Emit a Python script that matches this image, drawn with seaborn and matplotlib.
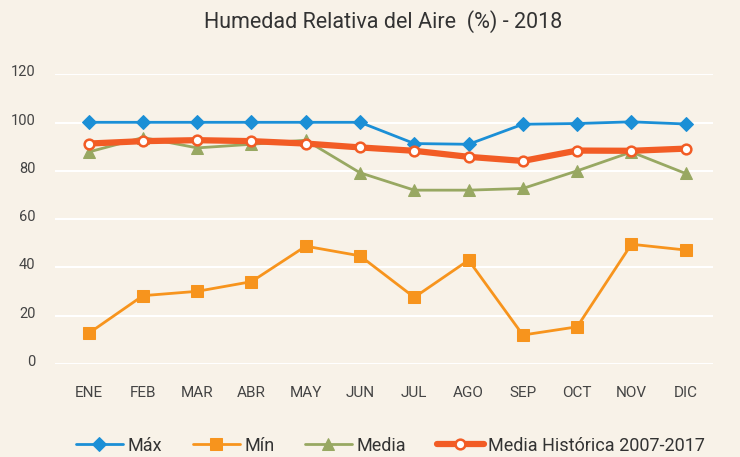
import numpy as np
import pandas as pd
import matplotlib
matplotlib.use("Agg")
import matplotlib.pyplot as plt
import matplotlib.transforms as mtransforms
import seaborn as sns
from matplotlib.ticker import FixedLocator

# %% data
months = ["ENE", "FEB", "MAR", "ABR", "MAY", "JUN", "JUL", "AGO", "SEP", "OCT", "NOV", "DIC"]
maxima = [100.1, 100.1, 100.1, 100.1, 100.1, 100.1, 91.3, 91.0, 99.3, 99.6, 100.3, 99.4]
minima = [12.7, 28.3, 30.1, 34.1, 48.8, 44.8, 27.6, 43.0, 12.0, 15.4, 49.6, 47.2]
media = [87.8, 93.8, 89.5, 91.0, 92.7, 79.2, 72.0, 72.0, 72.7, 80.0, 87.8, 78.9]
historica = [91.3, 92.3, 92.7, 92.3, 91.3, 89.7, 88.3, 85.8, 84.1, 88.4, 88.3, 89.2]
yticks = [0, 20, 40, 60, 80, 100, 120]

bg = "#F8F2E8"
sns.set_style("white", {"axes.facecolor": bg, "figure.facecolor": bg})
plt.rcParams["font.family"] = ["Roboto", "DejaVu Sans"]

fig = plt.figure(figsize=(7.4, 4.57), dpi=100)
ax = fig.add_axes([0.0743, 0.2035, 0.889, 0.634])

x = np.arange(len(months))
sns.lineplot(x=x, y=maxima, ax=ax, color="#1B8FD6", lw=2, marker="D", ms=7,
             mec="#1B8FD6", label="Máx", zorder=4)
sns.lineplot(x=x, y=minima, ax=ax, color="#F7941D", lw=2, marker="s", ms=9,
             mec="#F7941D", label="Mín", zorder=4)
sns.lineplot(x=x, y=media, ax=ax, color="#98A862", lw=2, marker="^", ms=9,
             mec="#98A862", label="Media", zorder=3)
sns.lineplot(x=x, y=historica, ax=ax, color="#F25C25", lw=4.5, marker="o", ms=7,
             mfc="white", mec="#F25C25", mew=1.8, label="Media Histórica 2007-2017", zorder=5)

ax.set_ylim(0, 120)
ax.set_xlim(-0.62, 11.5)
ax.set_yticks(yticks)
ax.set_xticks(x)
ax.set_xticklabels(months)
ax.xaxis.set_minor_locator(FixedLocator(np.arange(-0.5, 12, 1)))
ax.grid(axis="y", color="white", lw=1.5)
ax.set_axisbelow(True)
for s in ax.spines.values():
    s.set_visible(False)
ax.tick_params(axis="x", which="major", length=0, pad=16, labelsize=11, labelcolor="#444444")
ax.tick_params(axis="x", which="minor", length=5, width=1.2, color="white")
ax.tick_params(axis="y", length=0, pad=14, labelsize=10.5, labelcolor="#444444")
shift = mtransforms.ScaledTranslation(0, 2 / 100, fig.dpi_scale_trans)
for lab in ax.get_yticklabels():
    lab.set_verticalalignment("center")
    lab.set_transform(lab.get_transform() + shift)

fig.suptitle("Humedad Relativa del Aire  (%) - 2018", x=0.518, y=0.977, fontsize=15.5,
             color="#333333")

ax.legend(loc="upper center", bbox_to_anchor=(0.51, -0.195), ncol=4, frameon=False,
          fontsize=13, handlelength=2.6, columnspacing=1.7, handletextpad=0.25,
          labelcolor="#333333")

fig.savefig("out.png", dpi=100, facecolor=bg)
